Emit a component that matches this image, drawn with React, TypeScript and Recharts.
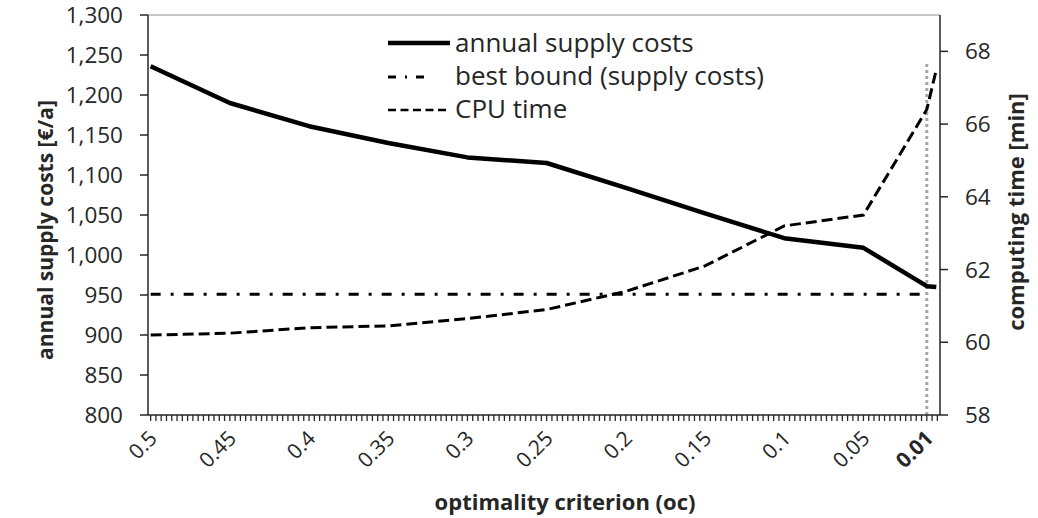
import { LineChart, Line, XAxis, YAxis, ReferenceLine } from 'recharts';

const FONT = '"Open Sans", sans-serif';
const INK = '#262626';

// oc values (x)
const ocValues = [0.5, 0.45, 0.4, 0.35, 0.3, 0.25, 0.2, 0.15, 0.1, 0.05, 0.01, 0.004];
const supplyCosts = [1236, 1190, 1161, 1140, 1122, 1115, 1084, 1052, 1021, 1009, 961, 960];
const bestBound = [951, 951, 951, 951, 951, 951, 951, 951, 951, 951, 951, null];
const cpuTime = [60.2, 60.25, 60.4, 60.45, 60.65, 60.9, 61.4, 62.1, 63.2, 63.5, 66.4, 67.5];

const ocLabels = [0.5, 0.45, 0.4, 0.35, 0.3, 0.25, 0.2, 0.15, 0.1, 0.05, 0.01];
const costTicks = [800, 850, 900, 950, 1000, 1050, 1100, 1150, 1200, 1250, 1300];
const timeTicks = [58, 60, 62, 64, 66, 68];
const legendLabels = ['annual supply costs', 'best bound (supply costs)', 'CPU time'];

const data = ocValues.map((oc, i) => ({
  oc,
  cost: supplyCosts[i],
  bound: bestBound[i],
  cpu: cpuTime[i],
}));

// excel-style category ticks, one every 1/300
const STEP = 1 / 300;
const minorTicks = Array.from({ length: 150 }, (_, k) => 0.5 - k * STEP);

function OcTick(props: any) {
  const { x, y, payload } = props;
  const label = ocLabels.find((v) => Math.abs(v - payload.value) < 1e-6);
  if (label === undefined) return <g />;
  return (
    <text
      x={x + 2}
      y={y}
      transform={`rotate(-45 ${x + 2} ${y})`}
      textAnchor="end"
      dominantBaseline="central"
      fontSize={21}
      fontFamily={FONT}
      fontWeight={label === 0.01 ? 700 : 400}
      fill={INK}
    >
      {String(label)}
    </text>
  );
}

export default function App() {
  return (
    <div style={{ position: 'absolute', left: 0, top: 0, width: 1038, height: 518, background: '#fff', fontFamily: FONT }}>
      <LineChart width={1038} height={518} data={data} margin={{ top: 15, right: 0, bottom: 0, left: 0 }}>
        <XAxis
          dataKey="oc"
          type="number"
          domain={[0.5 - 149.5 * STEP, 0.5 + 0.5 * STEP]}
          reversed
          allowDataOverflow
          ticks={minorTicks}
          interval={0}
          height={103}
          tickSize={6}
          tickMargin={13}
          tick={<OcTick />}
          axisLine={{ stroke: INK, strokeWidth: 1.5 }}
          tickLine={{ stroke: INK, strokeWidth: 1.3 }}
        />
        <YAxis
          yAxisId="cost"
          domain={[800, 1300]}
          ticks={costTicks}
          interval={0}
          width={148}
          tickSize={8}
          tickMargin={17}
          tickFormatter={(v: number) => v.toLocaleString('en-US')}
          tick={{ fontSize: 22.5, fill: INK, fontFamily: FONT }}
          axisLine={{ stroke: INK, strokeWidth: 1.5 }}
          tickLine={{ stroke: INK, strokeWidth: 1.5 }}
        />
        <YAxis
          yAxisId="time"
          orientation="right"
          domain={[58, 69]}
          ticks={timeTicks}
          interval={0}
          width={98}
          tickSize={8}
          tickMargin={17}
          tick={{ fontSize: 22.5, fill: INK, fontFamily: FONT }}
          axisLine={{ stroke: INK, strokeWidth: 1.5 }}
          tickLine={{ stroke: INK, strokeWidth: 1.5 }}
        />
        <ReferenceLine yAxisId="cost" y={1300} stroke="#8c8c8c" strokeWidth={1} />
        <ReferenceLine
          yAxisId="cost"
          segment={[{ x: 0.01, y: 800 }, { x: 0.01, y: 1241 }]}
          stroke="#a6a6a6"
          strokeWidth={3}
          strokeDasharray="3 3"
        />
        <Line
          yAxisId="cost"
          dataKey="bound"
          type="linear"
          stroke="#000"
          strokeWidth={3}
          strokeDasharray="10 10 3 10"
          dot={false}
          connectNulls={false}
          isAnimationActive={false}
        />
        <Line
          yAxisId="time"
          dataKey="cpu"
          type="linear"
          stroke="#000"
          strokeWidth={3}
          strokeDasharray="11 5"
          dot={false}
          isAnimationActive={false}
        />
        <Line
          yAxisId="cost"
          dataKey="cost"
          type="linear"
          stroke="#000"
          strokeWidth={4.5}
          strokeLinejoin="round"
          dot={false}
          isAnimationActive={false}
        />
      </LineChart>

      <svg width={1038} height={518} style={{ position: 'absolute', left: 0, top: 0, pointerEvents: 'none' }}>
        {/* legend */}
        <line x1={388} y1={43} x2={450} y2={43} stroke="#000" strokeWidth={4.5} />
        <line x1={388} y1={77} x2={425} y2={77} stroke="#000" strokeWidth={3} strokeDasharray="8 9 2 9 8" />
        <line x1={388} y1={110} x2={450} y2={110} stroke="#000" strokeWidth={2.5} strokeDasharray="8 4.5" />
        {legendLabels.map((t, i) => (
          <text key={t} x={455} y={52 + i * 33} fontSize={26} fontFamily={FONT} fill={INK}>
            {t}
          </text>
        ))}

        {/* axis titles */}
        <text
          x={45}
          y={230}
          transform="rotate(-90 45 230)"
          textAnchor="middle"
          dominantBaseline="central"
          fontSize={21}
          fontWeight={700}
          fontFamily={FONT}
          fill={INK}
        >
          annual supply costs [€/a]
        </text>
        <text
          x={1015}
          y={212}
          transform="rotate(-90 1015 212)"
          textAnchor="middle"
          dominantBaseline="central"
          fontSize={22}
          fontWeight={700}
          fontFamily={FONT}
          fill={INK}
        >
          computing time [min]
        </text>
        <text x={565} y={501} textAnchor="middle" dominantBaseline="central" fontSize={22} fontWeight={700} fontFamily={FONT} fill={INK}>
          optimality criterion (oc)
        </text>
      </svg>
    </div>
  );
}
